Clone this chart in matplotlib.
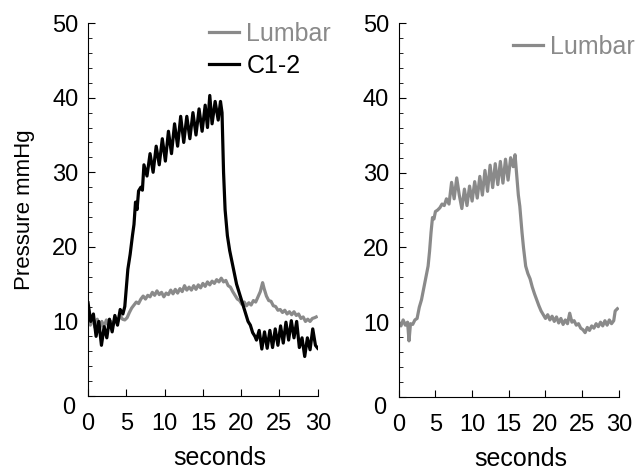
import numpy as np
import matplotlib
matplotlib.use("Agg")
import matplotlib.pyplot as plt
from matplotlib.transforms import ScaledTranslation

plt.rcParams['font.family'] = ['Liberation Sans', 'DejaVu Sans']

# left panel, C1-2 (black)
c12_t = [0, 0.35, 0.7, 1.05, 1.4, 1.75, 2.1, 2.45, 2.8, 3.15, 3.5, 3.85, 4.2, 4.55, 4.8,
         5.0, 5.2, 5.5, 5.8, 6.0, 6.2, 6.4, 6.6, 6.9, 7.1,
         7.3, 7.7, 8.1, 8.5, 8.9, 9.3, 9.7, 10.1, 10.5, 10.9, 11.3, 11.7, 12.1, 12.5, 12.9, 13.3,
         13.7, 14.1, 14.5, 14.9, 15.3, 15.6, 15.9, 16.2, 16.6, 17.0, 17.3, 17.5,
         17.7, 17.9, 18.2, 18.5, 18.8, 19.1, 19.4, 19.7, 20.0, 20.3, 20.6, 20.9, 21.2, 21.5, 21.8,
         22.0, 22.35, 22.7, 23.05, 23.4, 23.75, 24.1, 24.45, 24.8, 25.15, 25.5, 25.85, 26.2, 26.55,
         26.9, 27.25, 27.6, 27.95, 28.3, 28.65, 29.0, 29.35, 29.7, 30.0]
c12_p = [12.5, 10, 11, 8, 10, 6.8, 9.3, 7.8, 10.3, 8.6, 10.8, 9.5, 11.6, 11, 12,
         14.5, 17, 19, 21.5, 23, 26, 25, 27.5, 28, 27.6,
         31, 29.5, 32.5, 30, 33.5, 31, 34.5, 31.5, 35.5, 32.5, 36.5, 33.5, 37.5, 34, 37.5, 34.5,
         38, 35, 38.5, 35.5, 39, 36, 40.3, 36.5, 39.5, 37, 39.5, 38,
         30, 25, 21.5, 19.5, 18, 16.5, 15, 14, 13, 12, 11, 10, 9.5, 8.5, 8,
         7.5, 8.8, 6.3, 8.6, 6.4, 8.8, 6.5, 9, 6.8, 9.4, 7.1, 9.9, 7.5, 10.1,
         7.8, 10, 6.5, 7.8, 5.3, 7.8, 6.2, 9, 6.8, 6.4]

# left panel, Lumbar (grey)
lum1_t = [0, 0.3, 0.6, 0.9, 1.2, 1.5, 1.8, 2.1, 2.4, 2.7, 3.0, 3.3, 3.6, 3.9, 4.2, 4.5, 4.8, 5.1, 5.4, 5.7,
          6.0, 6.3, 6.6, 6.9, 7.2, 7.5, 7.8, 8.1, 8.4, 8.7, 9.0, 9.3, 9.6, 9.9, 10.2, 10.5, 10.8, 11.1, 11.4,
          11.7, 12.0, 12.3, 12.6, 12.9, 13.2, 13.5, 13.8, 14.1, 14.4, 14.7, 15.0, 15.3, 15.6, 15.9, 16.2,
          16.5, 16.8, 17.1, 17.4, 17.7, 18.0, 18.3, 18.6, 18.9, 19.2, 19.5, 19.8, 20.1, 20.4, 20.7, 21.0,
          21.3, 21.6, 21.9, 22.2, 22.5, 22.8, 23.0, 23.3, 23.6, 23.9, 24.2, 24.5, 24.8, 25.1, 25.4, 25.7,
          26.0, 26.3, 26.6, 26.9, 27.2, 27.5, 27.8, 28.1, 28.4, 28.7, 29.0, 29.3, 29.6, 29.8]
lum1_p = [11.5, 9.5, 10.5, 9.2, 10.3, 9, 10, 9.3, 10.2, 9.4, 10, 9.6, 10.4, 10, 10.8, 10.3, 10.2, 10.5, 11.2, 11.8,
          12.2, 12.6, 12.4, 13, 13.4, 13, 13.5, 13.3, 13.9, 13.5, 14.1, 13.6, 13.9, 13.3, 13.8, 13.6, 14.2, 13.7, 14.3,
          13.8, 14.4, 14, 14.8, 14.2, 14.6, 14.2, 14.8, 14.3, 14.9, 14.5, 15.1, 14.7, 15.3, 14.9, 15.4,
          15.1, 15.6, 15.3, 15.8, 15.3, 15.5, 14.8, 14.6, 14, 13.5, 13, 12.8, 12.3, 12.6, 12.1, 12.5,
          12.2, 12.8, 12.6, 13.3, 14, 15.2, 14.4, 13.4, 12.8, 12.7, 12.1, 12, 11.5, 11.6, 11.2, 11.5,
          11.0, 11.3, 10.9, 11.3, 10.8, 11, 10.4, 10.6, 10, 10.3, 10.0, 10.4, 10.5, 10.6]

# right panel, Lumbar (grey)
lum2_t = [0, 0.3, 0.6, 0.9, 1.2, 1.4, 1.6, 1.9, 2.2, 2.5, 2.8, 3.1, 3.4, 3.7, 4.0, 4.2, 4.4, 4.6, 4.8, 5.0,
          5.3, 5.6, 5.9, 6.2,
          6.5, 6.85, 7.2, 7.55, 7.9, 8.25, 8.6, 8.95, 9.3, 9.65, 10.0, 10.35, 10.7, 11.05, 11.4, 11.75,
          12.1, 12.45, 12.8, 13.15, 13.5, 13.85, 14.2, 14.55, 14.9, 15.25, 15.6, 15.85, 16.1,
          16.3, 16.5, 16.8, 17.0, 17.3, 17.6, 17.9, 18.2, 18.5, 18.8, 19.1, 19.4, 19.7, 20.0,
          20.3, 20.6, 20.9, 21.2, 21.5, 21.8, 22.1, 22.4, 22.7, 23.0, 23.3, 23.6, 23.9, 24.2, 24.5, 24.8,
          25.1, 25.4, 25.7, 26.0, 26.3, 26.6, 26.9, 27.2, 27.5, 27.8, 28.1, 28.4, 28.7, 29.0, 29.3, 29.5, 29.8]
lum2_p = [10, 9.5, 10.3, 9.6, 10, 7.5, 9.8, 9.7, 10.3, 10.5, 12, 13, 14.5, 16, 17.5, 19.5, 22, 24, 23.8, 24.8,
          25, 25.3, 25.8, 25.6,
          26.5, 25.8, 28.7, 26.5, 29.3, 27, 25.2, 27.8, 25.6, 28.2, 26.2, 28.8, 26.6, 29.5, 27, 30.3,
          27.5, 31, 28, 31.2, 28.4, 31.5, 28.6, 31.8, 29, 32, 30.8, 32.4, 29.4,
          27, 25.5, 22, 20, 17.5, 16.5, 15.8, 14.7, 13.8, 13, 12.2, 11.5, 11, 10.5,
          11, 10.3, 10.8, 10.1, 10.7, 9.9, 10.5, 9.7, 10.3, 9.8, 11.2, 10, 10.2, 9.6, 9.8, 9.2,
          9.0, 8.6, 9.3, 8.9, 9.5, 9.2, 9.8, 9.4, 10, 9.5, 10.2, 9.6, 10.3, 9.8, 10.2, 11.5, 11.8]

GREY = '#8a8a8a'
FS = 18
TFS = 17

fig = plt.figure(figsize=(6.38, 4.72), dpi=100)
ax1 = fig.add_axes([0.138, 0.161, 0.360, 0.790])
ax2 = fig.add_axes([0.625, 0.159, 0.345, 0.792])

ax1.plot(lum1_t, lum1_p, color=GREY, lw=2.3, label='Lumbar')
ax1.plot(c12_t, c12_p, color='black', lw=2.3, label='C1-2')
ax2.plot(lum2_t, lum2_p, color=GREY, lw=2.3, label='Lumbar')

for ax, lx in ((ax1, 0.574), (ax2, 0.555)):
    ax.set_xlim(0, 30)
    ax.set_ylim(0, 50)
    ax.spines['top'].set_visible(False)
    ax.spines['right'].set_visible(False)
    ax.set_xticks(np.arange(0, 31, 5))
    ax.set_yticks(np.arange(0, 51, 10))
    ax.set_yticks(np.arange(0, 51, 2), minor=True)
    ax.tick_params(axis='both', which='major', direction='in', length=5, labelsize=TFS)
    ax.tick_params(axis='y', which='minor', direction='in', length=3)
    ax.tick_params(axis='x', pad=12)
    ax.tick_params(axis='y', pad=7)
    ax.set_xlabel('seconds', fontsize=FS)
    ax.xaxis.set_label_coords(lx, -0.135)
    # the y "0" sits a bit below the corner
    lab = ax.yaxis.get_major_ticks()[0].label1
    lab.set_transform(lab.get_transform() + ScaledTranslation(-0.03, -0.09, fig.dpi_scale_trans))

ax1.set_ylabel('Pressure mmHg', fontsize=16, labelpad=12)

leg1 = ax1.legend(loc='upper right', bbox_to_anchor=(331 / 638, 1 - 22 / 472), bbox_transform=fig.transFigure,
                  frameon=False, fontsize=FS, handlelength=1.2, handletextpad=0.3, labelspacing=0.32,
                  borderpad=0, borderaxespad=0)
leg2 = ax2.legend(loc='upper right', bbox_to_anchor=(635 / 638, 1 - 35 / 472), bbox_transform=fig.transFigure,
                  frameon=False, fontsize=FS, handlelength=1.2, handletextpad=0.3,
                  borderpad=0, borderaxespad=0)
for leg in (leg1, leg2):
    for line, text in zip(leg.get_lines(), leg.get_texts()):
        text.set_color(line.get_color())

fig.savefig('out.png', dpi=100)
